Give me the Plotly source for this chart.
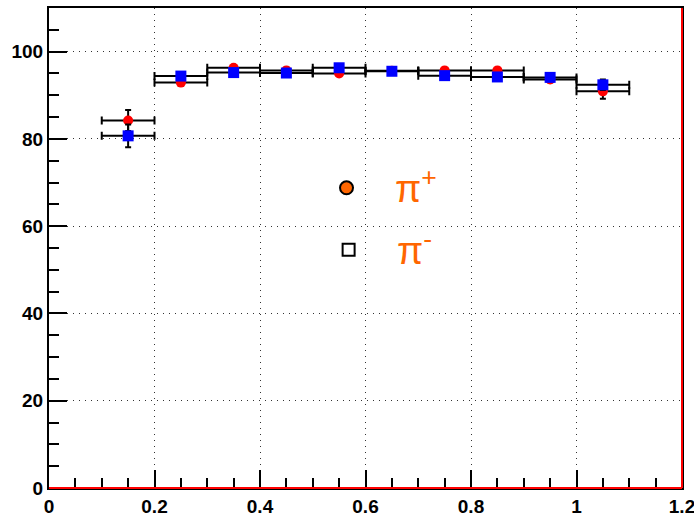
import plotly.graph_objects as go

x_centers = [0.15, 0.25, 0.35, 0.45, 0.55, 0.65, 0.75, 0.85, 0.95, 1.05]
x_halfwidth = [0.05] * 10
pip_vals = [84.2, 92.9, 96.3, 95.7, 95.0, 95.6, 95.7, 95.7, 93.6, 90.9]
pip_errs = [2.4, 0.6, 0.6, 0.6, 0.6, 0.5, 0.5, 0.5, 0.6, 1.7]
pim_vals = [80.7, 94.4, 95.2, 95.1, 96.3, 95.5, 94.5, 94.2, 94.1, 92.4]
pim_errs = [2.6, 0.6, 0.6, 0.6, 0.6, 0.5, 0.5, 0.5, 0.6, 1.2]

legend_x = [0.564, 0.568]
legend_y = [68.8, 54.6]
legend_labels = ["π<sup>+</sup>", "π<sup>-</sup>"]

fig = go.Figure()

fig.add_trace(go.Scatter(
    x=x_centers, y=pip_vals, mode="markers",
    marker=dict(symbol="circle", size=10, color="#ff0000"),
    error_x=dict(type="data", array=x_halfwidth, color="black", thickness=2, width=4),
    error_y=dict(type="data", array=pip_errs, color="black", thickness=2, width=3),
    showlegend=False,
))
fig.add_trace(go.Scatter(
    x=x_centers, y=pim_vals, mode="markers",
    marker=dict(symbol="square", size=11, color="#0000ff"),
    error_x=dict(type="data", array=x_halfwidth, color="black", thickness=2, width=4),
    error_y=dict(type="data", array=pim_errs, color="black", thickness=2, width=3),
    showlegend=False,
))

# legend markers
fig.add_trace(go.Scatter(
    x=[legend_x[0]], y=[legend_y[0]], mode="markers",
    marker=dict(symbol="circle", size=13, color="#ff6600", line=dict(color="black", width=2)),
    showlegend=False,
))
fig.add_trace(go.Scatter(
    x=[legend_x[1]], y=[legend_y[1]], mode="markers",
    marker=dict(symbol="square-open", size=12, color="black", line=dict(width=2)),
    showlegend=False,
))

for lx, ly, lab in zip(legend_x, legend_y, legend_labels):
    fig.add_annotation(
        x=lx + 0.088, y=ly + 0.5, text=lab, showarrow=False, xanchor="left", yanchor="middle",
        font=dict(family="Liberation Sans", size=38, color="#ff6600"),
    )

axis_common = dict(
    showgrid=True, gridcolor="#333333", griddash="1px,5px", gridwidth=1.2,
    ticks="inside", ticklen=18, tickwidth=1.5, tickcolor="black",
    showline=True, linecolor="black", linewidth=2, mirror=True,
    zeroline=False, automargin=False, ticklabeloverflow="allow",
    tickfont=dict(family="Liberation Sans", size=19, color="black", weight="bold"),
)

fig.update_xaxes(
    range=[0, 1.2], tickvals=[0, 0.2, 0.4, 0.6, 0.8, 1.0, 1.2],
    ticktext=["0", "0.2", "0.4", "0.6", "0.8", "1", "1.2"],
    minor=dict(dtick=0.05, ticks="inside", ticklen=10, tickcolor="black", showgrid=False),
    **axis_common,
)
fig.update_yaxes(
    range=[0, 110], tickvals=[0, 20, 40, 60, 80, 100],
    minor=dict(dtick=5, ticks="inside", ticklen=10, tickcolor="black", showgrid=False),
    **axis_common,
)

# red frame edges (bottom and right)
fig.add_shape(type="line", xref="paper", yref="paper", x0=0, x1=1, y0=0, y1=0,
              line=dict(color="#ff0000", width=2))
fig.add_shape(type="line", xref="paper", yref="paper", x0=1, x1=1, y0=0, y1=1,
              line=dict(color="#ff0000", width=2))

fig.update_layout(
    width=694, height=516,
    margin=dict(l=49, r=12, t=8, b=28),
    plot_bgcolor="white", paper_bgcolor="white",
)

fig.write_html("out.html")
